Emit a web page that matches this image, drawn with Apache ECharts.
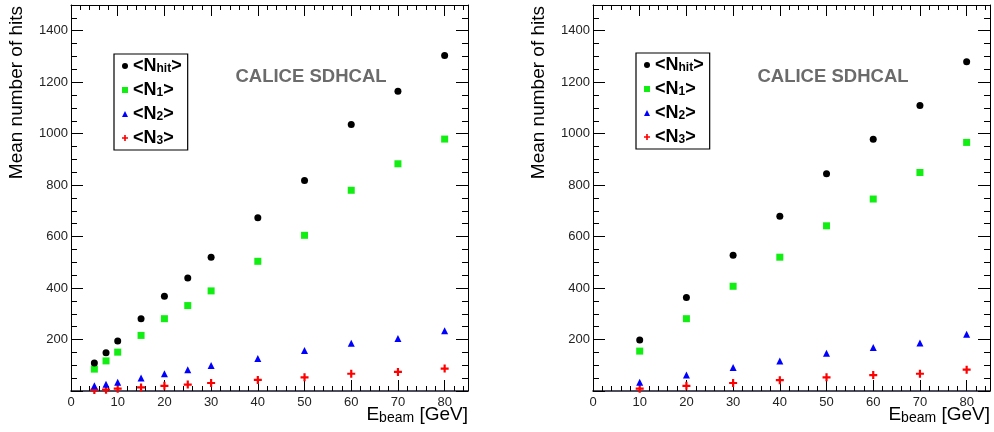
<!DOCTYPE html>
<html>
<head>
<meta charset="utf-8">
<script src="https://cdn.jsdelivr.net/npm/echarts@6/dist/echarts.min.js"></script>
<style>html,body{margin:0;padding:0;background:#fff}#c{width:994px;height:432px}</style>
</head>
<body>
<div id="c"></div>
<script>
// ---- data ----
const energiesLeft = [5, 7.5, 10, 15, 20, 25, 30, 40, 50, 60, 70, 80];
const nhitLeft = [109, 149, 194, 281, 368, 439, 520, 673, 818, 1036, 1165, 1304];
const n1Left   = [85, 117, 151, 216, 281, 332, 389, 504, 605, 780, 883, 979];
const n2Left   = [20, 26, 34, 51, 67, 83, 99, 126, 157, 186, 204, 234];
const n3Left   = [4, 5, 9, 14, 20, 25, 31, 43, 53, 67, 74, 87];

const energiesRight = [10, 20, 30, 40, 50, 60, 70, 80];
const nhitRight = [198, 363, 528, 679, 844, 978, 1109, 1279];
const n1Right   = [155, 281, 407, 520, 642, 746, 849, 966];
const n2Right   = [34, 62, 91, 117, 147, 169, 187, 221];
const n3Right   = [9, 20, 31, 42, 53, 62, 67, 83];

const xTickLabels = [0, 10, 20, 30, 40, 50, 60, 70, 80];
const yTickLabels = [200, 400, 600, 800, 1000, 1200, 1400];
const seriesNames = ['Nhit', 'N1', 'N2', 'N3'];
const legendLabels = {Nhit: '{t|<N}{s|hit}{t|>}', N1: '{t|<N}{s|1}{t|>}', N2: '{t|<N}{s|2}{t|>}', N3: '{t|<N}{s|3}{t|>}'};

const FONT = '"Liberation Sans", Arial, Helvetica, sans-serif';
const PLUS = 'path://M-1.1,-4 H1.1 V-1.1 H4 V1.1 H1.1 V4 H-1.1 V1.1 H-4 V-1.1 H-1.1 Z';

function pairs(xs, ys) { return xs.map((x, i) => [x, ys[i]]); }

function xAxes(g) {
  const base = {gridIndex: g, type: 'value', min: 0, max: 85, splitLine: {show: false}};
  return [
    Object.assign({}, base, {position: 'bottom', interval: 10,
      axisLine: {show: true, onZero: false, lineStyle: {color: '#15152a', width: 1.6}},
      axisTick: {show: true, inside: true, length: 11, lineStyle: {color: '#000', width: 1}},
      axisLabel: {show: true, margin: 5, fontSize: 13, color: '#222', fontFamily: FONT,
        formatter: v => xTickLabels.indexOf(v) >= 0 ? String(v) : ''}}),
    Object.assign({}, base, {position: 'bottom', offset: 0, interval: 2,
      axisLine: {show: false, onZero: false},
      axisTick: {show: true, inside: true, length: 5, lineStyle: {color: '#000', width: 1}},
      axisLabel: {show: false}}),
    Object.assign({}, base, {position: 'top', interval: 10,
      axisLine: {show: true, onZero: false, lineStyle: {color: '#000', width: 1}},
      axisTick: {show: true, inside: true, length: 11, lineStyle: {color: '#000', width: 1}},
      axisLabel: {show: false}}),
    Object.assign({}, base, {position: 'top', offset: 0, interval: 2,
      axisLine: {show: false, onZero: false},
      axisTick: {show: true, inside: true, length: 5, lineStyle: {color: '#000', width: 1}},
      axisLabel: {show: false}})
  ];
}

function yAxes(g) {
  const base = {gridIndex: g, type: 'value', min: 0, max: 1500, splitLine: {show: false}};
  return [
    Object.assign({}, base, {position: 'left', interval: 200,
      axisLine: {show: true, onZero: false, lineStyle: {color: '#000', width: 1}},
      axisTick: {show: true, inside: true, length: 12, lineStyle: {color: '#000', width: 1}},
      axisLabel: {show: true, margin: 3, fontSize: 13, color: '#222', fontFamily: FONT,
        formatter: v => yTickLabels.indexOf(v) >= 0 ? String(v) : ''}}),
    Object.assign({}, base, {position: 'left', offset: 0, interval: 50,
      axisLine: {show: false, onZero: false},
      axisTick: {show: true, inside: true, length: 6, lineStyle: {color: '#000', width: 1}},
      axisLabel: {show: false}}),
    Object.assign({}, base, {position: 'right', interval: 200,
      axisLine: {show: true, onZero: false, lineStyle: {color: '#000', width: 1}},
      axisTick: {show: true, inside: true, length: 12, lineStyle: {color: '#000', width: 1}},
      axisLabel: {show: false}}),
    Object.assign({}, base, {position: 'right', offset: 0, interval: 50,
      axisLine: {show: false, onZero: false},
      axisTick: {show: true, inside: true, length: 6, lineStyle: {color: '#000', width: 1}},
      axisLabel: {show: false}})
  ];
}

const styles = {
  Nhit: {symbol: 'circle', symbolSize: 7, color: '#000000'},
  N1:   {symbol: 'rect', symbolSize: 7, color: '#11ee11'},
  N2:   {symbol: 'triangle', symbolSize: 7, color: '#0000ff'},
  N3:   {symbol: PLUS, symbolSize: 8, color: '#ff0000'}
};

function makeSeries(axisIdx, xs, sets) {
  return seriesNames.map((name, i) => ({
    name: name, type: 'scatter', xAxisIndex: axisIdx, yAxisIndex: axisIdx,
    symbol: styles[name].symbol, symbolSize: styles[name].symbolSize,
    itemStyle: {color: styles[name].color, opacity: 1},
    data: pairs(xs, sets[i]), z: 5 - i
  }));
}

function makeLegend(left, top) {
  return {
    left: left, top: top, orient: 'vertical',
    data: seriesNames, selectedMode: false,
    borderColor: '#000', borderWidth: 1.2, backgroundColor: '#fff',
    padding: [3, 6, 3, 8], itemGap: 6, itemWidth: 6, itemHeight: 6,
    formatter: n => legendLabels[n],
    textStyle: {
      fontFamily: FONT, color: '#000',
      rich: {
        t: {fontSize: 18, fontWeight: 'bold', lineHeight: 18, fontFamily: FONT, color: '#000'},
        s: {fontSize: 12, fontWeight: 'bold', lineHeight: 8, verticalAlign: 'bottom', fontFamily: FONT, color: '#000'}
      }
    }
  };
}

function xName(right) {
  return {
    type: 'text', right: right, top: 405, z: 10,
    style: {
      text: '{e|E}{s|beam}{e| [GeV]}', fill: '#000',
      rich: {
        e: {fontSize: 19, lineHeight: 22, fontFamily: FONT, fill: '#000'},
        s: {fontSize: 14, lineHeight: 10, verticalAlign: 'bottom', fontFamily: FONT, fill: '#000'}
      }
    }
  };
}

function yName(x) {
  return {
    type: 'text', x: x, y: 6, rotation: Math.PI / 2, z: 10,
    style: {text: 'Mean number of hits', fontSize: 19, fontFamily: FONT, fill: '#000',
      align: 'right', verticalAlign: 'middle'}
  };
}

function calice(x) {
  return {
    type: 'text', x: x, y: 77, z: 10,
    style: {text: 'CALICE SDHCAL', fontSize: 18.5, fontWeight: 'bold', fontFamily: FONT,
      fill: '#6b6b6b', align: 'center', verticalAlign: 'middle'}
  };
}

const chart = echarts.init(document.getElementById('c'), null, {renderer: 'canvas'});
chart.setOption({
  animation: false,
  backgroundColor: '#fff',
  grid: [
    {left: 71, right: 526, top: 5, bottom: 41, containLabel: false},
    {left: 593, right: 4, top: 5, bottom: 41, containLabel: false}
  ],
  xAxis: xAxes(0).concat(xAxes(1)),
  yAxis: yAxes(0).concat(yAxes(1)),
  legend: [makeLegend(114, 54), makeLegend(636, 53)],
  series: makeSeries(0, energiesLeft, [nhitLeft, n1Left, n2Left, n3Left])
    .concat(makeSeries(4, energiesRight, [nhitRight, n1Right, n2Right, n3Right])),
  graphic: [xName(526), xName(4), yName(17), yName(539), calice(311), calice(833)]
});
</script>
</body>
</html>
